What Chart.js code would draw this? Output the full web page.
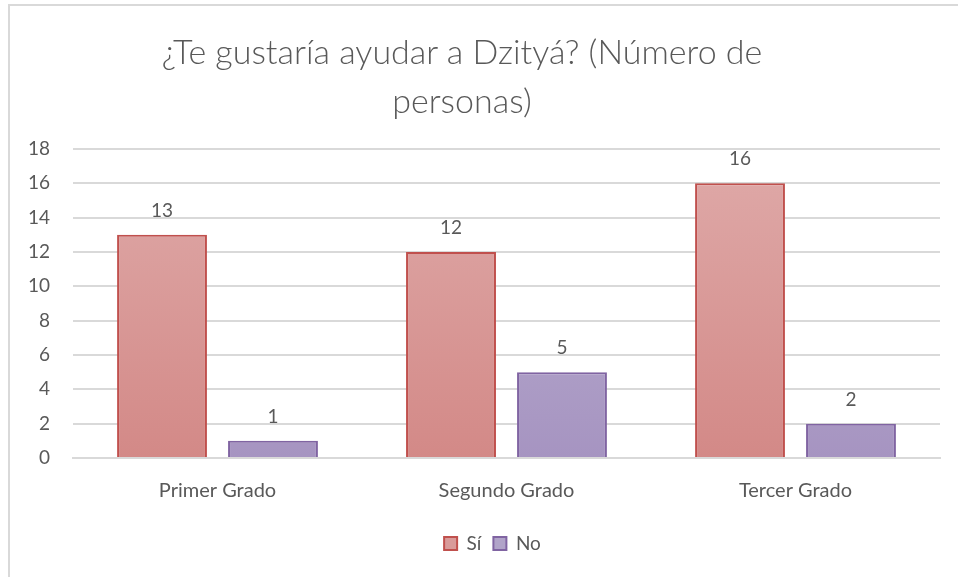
<!DOCTYPE html>
<html>
<head>
<meta charset="utf-8">
<script src="https://cdn.jsdelivr.net/npm/chart.js@4.4.1/dist/chart.umd.min.js"></script>
<style>
  body { margin: 0; background: #fff; overflow: hidden; }
  .frame { position: absolute; left: 8px; top: 4px; width: 1000px; height: 620px; border: 2px solid #d9d9d9; box-sizing: border-box; }
  .title { position: absolute; left: 112px; top: 26px; width: 700px; text-align: center; font: 300 34px Lato, sans-serif; color: #595959; line-height: 49px; }
  #chart { position: absolute; left: 9px; top: 5px; }
</style>
</head>
<body>
<div class="frame"></div>
<canvas id="chart" width="967" height="572"></canvas>
<div class="title">¿Te gustaría ayudar a Dzityá? (Número de<br>personas)</div>
<script>
// data
const grados = ['Primer Grado', 'Segundo Grado', 'Tercer Grado'];
const si = [13, 12, 16];
const no = [1, 5, 2];
const yTicks = [0, 2, 4, 6, 8, 10, 12, 14, 16, 18];

const font = 'Lato, sans-serif';
const grey = '#595959';

// vertical gradient like the Excel fill
const gradient = (top, bottom) => (c) => {
    const area = c.chart.chartArea;
    if (!area) return bottom;
    const g = c.chart.ctx.createLinearGradient(0, area.top, 0, area.bottom);
    g.addColorStop(0, top);
    g.addColorStop(1, bottom);
    return g;
};

// value labels above the bars
const valueLabels = {
    id: 'valueLabels',
    afterDatasetsDraw(chart) {
        const ctx = chart.ctx;
        ctx.save();
        ctx.font = '19px ' + font;
        ctx.fillStyle = grey;
        ctx.textAlign = 'center';
        ctx.textBaseline = 'alphabetic';
        chart.data.datasets.forEach((ds, i) => {
            chart.getDatasetMeta(i).data.forEach((bar, j) => {
                ctx.fillText(ds.data[j], bar.x, bar.y - 18);
            });
        });
        ctx.restore();
    }
};

// legend sits a bit right of centre in the original
const legendShift = {
    id: 'legendShift',
    afterLayout(chart) {
        chart.legend.left += 11;
        chart.legend.right += 11;
    }
};

new Chart(document.getElementById('chart').getContext('2d'), {
    type: 'bar',
    data: {
        labels: grados,
        datasets: [
            {
                label: 'Sí',
                data: si,
                backgroundColor: gradient('#dfaaa9', '#d38987'),
                borderColor: '#c0504d',
                borderWidth: 2,
                borderSkipped: 'bottom',
                categoryPercentage: 0.768,
                barPercentage: 0.81,
            },
            {
                label: 'No',
                data: no,
                backgroundColor: gradient('#bcb2d1', '#a694c1'),
                borderColor: '#8064a2',
                borderWidth: 2,
                borderSkipped: 'bottom',
                categoryPercentage: 0.768,
                barPercentage: 0.81,
            },
        ],
    },
    options: {
        responsive: false,
        animation: false,
        layout: { padding: { top: 144, left: 14, right: 36, bottom: 14 } },
        plugins: {
            title: { display: false },
            tooltip: { enabled: false },
            legend: {
                position: 'bottom',
                labels: {
                    font: { family: font, size: 19 },
                    color: grey,
                    boxWidth: 13,
                    boxHeight: 13,
                    padding: 12,
                    generateLabels(chart) {
                        return chart.data.datasets.map((ds, i) => ({
                            text: ds.label,
                            fillStyle: i === 0 ? '#d99b9a' : '#b1a4c9',
                            strokeStyle: ds.borderColor,
                            lineWidth: 2,
                            datasetIndex: i,
                            fontColor: grey,
                        }));
                    },
                },
            },
        },
        scales: {
            x: {
                grid: { display: false },
                border: { color: '#d9d9d9', width: 2 },
                afterFit: (axis) => { axis.height += 6; },
                ticks: { font: { family: font, size: 20 }, color: grey, padding: 13 },
            },
            y: {
                min: 0,
                max: yTicks[yTicks.length - 1],
                afterBuildTicks: (axis) => { axis.ticks = yTicks.map(v => ({ value: v })); },
                afterFit: (axis) => { axis.width = 50; },
                grid: { color: '#d9d9d9', lineWidth: 2, drawTicks: false },
                border: { display: false },
                ticks: { font: { family: font, size: 19 }, color: grey, padding: 23 },
            },
        },
    },
    plugins: [valueLabels, legendShift],
});
</script>
</body>
</html>
